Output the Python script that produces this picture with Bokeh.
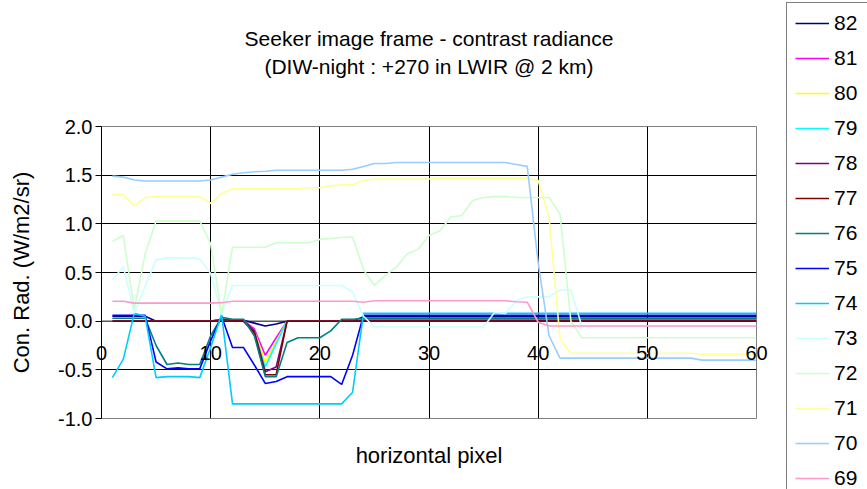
from bokeh.plotting import figure
from bokeh.layouts import row
from bokeh.models import Range1d, FixedTicker, NumeralTickFormatter, Legend, LegendItem, Title, Span
from bokeh.embed import file_html
from bokeh.resources import INLINE

# ---------------- data ----------------
pixels = [1, 2, 3, 4, 5, 6, 7, 8, 9, 10,
          11, 12, 13, 14, 15, 16, 17, 18, 19, 20,
          21, 22, 23, 24, 25, 26, 27, 28, 29, 30,
          31, 32, 33, 34, 35, 36, 37, 38, 39, 40,
          41, 42, 43, 44, 45, 46, 47, 48, 49, 50,
          51, 52, 53, 54, 55, 56, 57, 58, 59, 60]

series_names = ["82", "81", "80", "79", "78", "77", "76", "75", "74", "73", "72", "71", "70", "69"]

s82 = [0.05, 0.05, 0.05, 0.05, 0.0, 0.0, 0.0, 0.0, 0.0, 0.0,
       0.02, 0.01, 0.01, -0.02, -0.05, -0.03, 0.0, 0.0, 0.0, 0.0,
       0.0, 0.0, 0.0, 0.045, 0.045, 0.045, 0.045, 0.045, 0.045, 0.045,
       0.045, 0.045, 0.045, 0.045, 0.045, 0.045, 0.045, 0.045, 0.045, 0.045,
       0.045, 0.045, 0.045, 0.045, 0.045, 0.045, 0.045, 0.045, 0.045, 0.045,
       0.045, 0.045, 0.045, 0.045, 0.045, 0.045, 0.045, 0.045, 0.045, 0.045]
s81 = [0.0, 0.0, 0.0, 0.0, 0.0, 0.0, 0.0, 0.0, 0.0, 0.0,
       0.02, 0.01, 0.01, -0.08, -0.35, -0.17, 0.0, 0.0, 0.0, 0.0,
       0.0, 0.0, 0.0, 0.01, 0.01, 0.01, 0.01, 0.01, 0.01, 0.01,
       0.01, 0.01, 0.01, 0.01, 0.01, 0.01, 0.01, 0.01, 0.01, 0.01,
       0.01, 0.01, 0.01, 0.01, 0.01, 0.01, 0.01, 0.01, 0.01, 0.01,
       0.01, 0.01, 0.01, 0.01, 0.01, 0.01, 0.01, 0.01, 0.01, 0.01]
s80 = [0.0, 0.0, 0.0, 0.0, 0.0, 0.0, 0.0, 0.0, 0.0, 0.0,
       0.02, 0.01, 0.01, -0.10, -0.42, -0.21, 0.0, 0.0, 0.0, 0.0,
       0.0, 0.0, 0.0, 0.01, 0.01, 0.01, 0.01, 0.01, 0.01, 0.01,
       0.01, 0.01, 0.01, 0.01, 0.01, 0.01, 0.01, 0.01, 0.01, 0.01,
       0.01, 0.01, 0.01, 0.01, 0.01, 0.01, 0.01, 0.01, 0.01, 0.01,
       0.01, 0.01, 0.01, 0.01, 0.01, 0.01, 0.01, 0.01, 0.01, 0.01]
s79 = [0.0, 0.0, 0.0, 0.0, 0.0, 0.0, 0.0, 0.0, 0.0, 0.0,
       0.02, 0.01, 0.01, -0.12, -0.47, -0.23, 0.0, 0.0, 0.0, 0.0,
       0.0, 0.0, 0.0, 0.02, 0.02, 0.02, 0.02, 0.02, 0.02, 0.02,
       0.02, 0.02, 0.02, 0.02, 0.02, 0.02, 0.02, 0.02, 0.02, 0.02,
       0.02, 0.02, 0.02, 0.02, 0.02, 0.02, 0.02, 0.02, 0.02, 0.02,
       0.02, 0.02, 0.02, 0.02, 0.02, 0.02, 0.02, 0.02, 0.02, 0.02]
s78 = [0.0, 0.0, 0.0, 0.0, 0.0, 0.0, 0.0, 0.0, 0.0, 0.0,
       0.02, 0.01, 0.01, -0.10, -0.52, -0.47, 0.0, 0.0, 0.0, 0.0,
       0.0, 0.0, 0.0, 0.01, 0.01, 0.01, 0.01, 0.01, 0.01, 0.01,
       0.01, 0.01, 0.01, 0.01, 0.01, 0.01, 0.01, 0.01, 0.01, 0.01,
       0.01, 0.01, 0.01, 0.01, 0.01, 0.01, 0.01, 0.01, 0.01, 0.01,
       0.01, 0.01, 0.01, 0.01, 0.01, 0.01, 0.01, 0.01, 0.01, 0.01]
s77 = [0.0, 0.0, 0.0, 0.0, 0.0, 0.0, 0.0, 0.0, 0.0, 0.0,
       0.0, 0.0, 0.0, -0.12, -0.55, -0.55, 0.0, 0.0, 0.0, 0.0,
       0.0, 0.0, 0.0, 0.0, 0.0, 0.0, 0.0, 0.0, 0.0, 0.0,
       0.0, 0.0, 0.0, 0.0, 0.0, 0.0, 0.0, 0.0, 0.0, 0.0,
       0.0, 0.0, 0.0, 0.0, 0.0, 0.0, 0.0, 0.0, 0.0, 0.0,
       0.0, 0.0, 0.0, 0.0, 0.0, 0.0, 0.0, 0.0, 0.0, 0.0]
s76 = [0.03, 0.03, 0.03, 0.03, -0.25, -0.445, -0.43, -0.445, -0.445, -0.15,
       0.04, 0.02, 0.02, -0.15, -0.57, -0.57, -0.22, -0.17, -0.17, -0.17,
       -0.10, 0.02, 0.02, 0.03, 0.03, 0.03, 0.03, 0.03, 0.03, 0.03,
       0.03, 0.03, 0.03, 0.03, 0.03, 0.03, 0.03, 0.03, 0.03, 0.03,
       0.03, 0.03, 0.03, 0.03, 0.03, 0.03, 0.03, 0.03, 0.03, 0.03,
       0.03, 0.03, 0.03, 0.03, 0.03, 0.03, 0.03, 0.03, 0.03, 0.03]
s75 = [0.06, 0.06, 0.06, 0.06, -0.42, -0.49, -0.48, -0.49, -0.49, -0.20,
       0.05, -0.27, -0.27, -0.45, -0.64, -0.62, -0.57, -0.57, -0.57, -0.57,
       -0.57, -0.65, -0.35, 0.06, 0.06, 0.06, 0.06, 0.06, 0.06, 0.06,
       0.06, 0.06, 0.06, 0.06, 0.06, 0.06, 0.06, 0.06, 0.06, 0.06,
       0.06, 0.06, 0.06, 0.06, 0.06, 0.06, 0.06, 0.06, 0.06, 0.06,
       0.06, 0.06, 0.06, 0.06, 0.06, 0.06, 0.06, 0.06, 0.06, 0.06]
s74 = [-0.58, -0.39, 0.08, 0.05, -0.58, -0.57, -0.57, -0.57, -0.58, -0.27,
       0.07, -0.85, -0.85, -0.85, -0.85, -0.85, -0.85, -0.85, -0.85, -0.85,
       -0.85, -0.85, -0.73, 0.08, 0.08, 0.08, 0.08, 0.08, 0.08, 0.08,
       0.08, 0.08, 0.08, 0.08, 0.08, 0.08, 0.08, 0.08, 0.08, 0.08,
       0.08, 0.08, 0.08, 0.08, 0.08, 0.08, 0.08, 0.08, 0.08, 0.08,
       0.08, 0.08, 0.08, 0.08, 0.08, 0.08, 0.08, 0.08, 0.08, 0.08]
s73 = [0.425, 0.56, 0.08, 0.36, 0.63, 0.65, 0.65, 0.65, 0.64, 0.49,
       0.07, 0.367, 0.367, 0.367, 0.367, 0.367, 0.367, 0.367, 0.367, 0.367,
       0.367, 0.367, 0.30, 0.05, -0.06, -0.06, -0.06, -0.06, -0.06, -0.06,
       -0.06, -0.06, -0.06, -0.06, -0.06, 0.09, 0.08, 0.21, 0.25, 0.25,
       0.25, 0.32, 0.32, -0.05, -0.05, -0.05, -0.05, -0.05, -0.05, -0.05,
       -0.05, -0.05, -0.05, -0.05, -0.05, -0.05, -0.05, -0.05, -0.05, -0.05]
s72 = [0.82, 0.88, 0.12, 0.69, 1.03, 1.03, 1.03, 1.03, 1.03, 0.795,
       0.07, 0.76, 0.76, 0.76, 0.76, 0.805, 0.805, 0.805, 0.805, 0.84,
       0.85, 0.86, 0.865, 0.53, 0.367, 0.47, 0.555, 0.69, 0.74, 0.88,
       0.93, 1.07, 1.085, 1.24, 1.27, 1.28, 1.28, 1.27, 1.27, 1.27,
       1.27, 1.10, 0.0, -0.17, -0.17, -0.17, -0.17, -0.17, -0.17, -0.17,
       -0.17, -0.17, -0.17, -0.17, -0.17, -0.17, -0.17, -0.17, -0.17, -0.17]
s71 = [1.30, 1.30, 1.185, 1.27, 1.28, 1.28, 1.28, 1.28, 1.28, 1.21,
       1.31, 1.36, 1.36, 1.36, 1.36, 1.36, 1.36, 1.36, 1.37, 1.37,
       1.39, 1.40, 1.40, 1.445, 1.46, 1.46, 1.46, 1.46, 1.46, 1.46,
       1.47, 1.47, 1.47, 1.47, 1.47, 1.47, 1.47, 1.47, 1.47, 1.445,
       1.07, -0.18, -0.33, -0.33, -0.33, -0.33, -0.33, -0.33, -0.33, -0.33,
       -0.33, -0.33, -0.33, -0.33, -0.34, -0.34, -0.34, -0.34, -0.34, -0.34]
s70 = [1.49, 1.48, 1.45, 1.44, 1.44, 1.44, 1.44, 1.44, 1.44, 1.45,
       1.48, 1.51, 1.525, 1.535, 1.54, 1.55, 1.55, 1.55, 1.55, 1.55,
       1.55, 1.55, 1.56, 1.59, 1.62, 1.62, 1.63, 1.63, 1.63, 1.63,
       1.63, 1.63, 1.63, 1.63, 1.63, 1.63, 1.63, 1.61, 1.59, 0.60,
       -0.15, -0.38, -0.38, -0.38, -0.38, -0.38, -0.38, -0.38, -0.38, -0.38,
       -0.38, -0.38, -0.38, -0.38, -0.40, -0.40, -0.40, -0.40, -0.40, -0.40]
s69 = [0.205, 0.205, 0.185, 0.185, 0.185, 0.185, 0.185, 0.185, 0.185, 0.185,
       0.19, 0.205, 0.205, 0.205, 0.205, 0.205, 0.205, 0.205, 0.205, 0.205,
       0.205, 0.205, 0.205, 0.195, 0.21, 0.21, 0.21, 0.21, 0.21, 0.21,
       0.21, 0.21, 0.21, 0.21, 0.21, 0.21, 0.21, 0.20, 0.195, -0.01,
       -0.05, -0.05, -0.05, -0.05, -0.05, -0.05, -0.05, -0.05, -0.05, -0.05,
       -0.05, -0.05, -0.05, -0.05, -0.05, -0.05, -0.05, -0.05, -0.05, -0.05]

x_ticks = [0, 10, 20, 30, 40, 50, 60]
y_ticks = [-1.0, -0.5, 0.0, 0.5, 1.0, 1.5, 2.0]

title_line1 = "Seeker image frame - contrast radiance"
title_line2 = "(DIW-night : +270 in LWIR @ 2 km)"
x_title = "horizontal pixel"
y_title = "Con. Rad. (W/m2/sr)"

# ---------------- styles ----------------
colors = ["#000080", "#FF00FF", "#FFFF00", "#00FFFF", "#800080", "#800000", "#008080",
          "#0000FF", "#00CCFF", "#CCFFFF", "#CCFFCC", "#FFFF99", "#99CCFF", "#FF99CC"]
series_values = [s82, s81, s80, s79, s78, s77, s76, s75, s74, s73, s72, s71, s70, s69]
FONT = "Liberation Sans"
FS_TICK = "20px"
FS_TITLE = "21px"
FS_AXIS = "22px"
FS_LEG = "21px"

p = figure(width=781, height=489, output_backend="svg", toolbar_location=None,
           title=None,
           x_range=Range1d(0, 60), y_range=Range1d(-1.0, 2.0),
           min_border_left=101, min_border_right=25, min_border_top=126,
           min_border_bottom=71)
p.frame_align = False
p.background_fill_color = "white"
p.border_fill_color = "white"
p.outline_line_color = "#808080"
p.outline_line_width = 1

# x axis: labels lifted up to sit just under the y = 0 line
p.xaxis.ticker = FixedTicker(ticks=x_ticks)
p.xaxis.major_label_text_font = FONT
p.xaxis.major_label_text_font_size = FS_TICK
p.xaxis.major_label_text_color = "black"
p.xaxis.major_tick_out = 0
p.xaxis.major_tick_in = 0
p.xaxis.minor_tick_line_color = None
p.xaxis.major_tick_line_color = None
p.xaxis.axis_line_color = None
p.xaxis.major_label_standoff = -73
p.xaxis.axis_label = x_title
p.xaxis.axis_label_text_font = FONT
p.xaxis.axis_label_text_font_size = FS_AXIS
p.xaxis.axis_label_text_font_style = "normal"
p.xaxis.axis_label_text_color = "black"
p.xaxis.axis_label_standoff = 80

p.yaxis.ticker = FixedTicker(ticks=y_ticks)
p.yaxis.formatter = NumeralTickFormatter(format="0.0")
p.yaxis.major_label_text_font = FONT
p.yaxis.major_label_text_font_size = FS_TICK
p.yaxis.major_label_text_color = "black"
p.yaxis.major_tick_out = 6
p.yaxis.major_tick_in = 0
p.yaxis.minor_tick_line_color = None
p.yaxis.major_label_standoff = 3
p.yaxis.axis_line_color = "black"
p.yaxis.major_tick_line_color = "black"
p.yaxis.axis_label = y_title
p.yaxis.axis_label_text_font = FONT
p.yaxis.axis_label_text_font_size = FS_AXIS
p.yaxis.axis_label_text_font_style = "normal"
p.yaxis.axis_label_text_color = "black"
p.yaxis.axis_label_standoff = 21

p.xgrid.ticker = FixedTicker(ticks=[10, 20, 30, 40, 50])
p.xgrid.grid_line_color = "black"
p.xgrid.grid_line_width = 1
p.ygrid.ticker = FixedTicker(ticks=[-0.5, 0.5, 1.0, 1.5])
p.ygrid.grid_line_color = "black"
p.ygrid.grid_line_width = 1

# category axis line at y = 0
p.add_layout(Span(location=0, dimension="width", line_color="black", line_width=1, level="underlay"))

for ys, col in zip(series_values, colors):
    p.line(pixels, ys, line_color=col, line_width=1.6)

# titles: spacer nearest the frame, then line 2, then line 1
spacer = Title(text=" ", standoff=21, text_font=FONT, text_font_size=FS_TITLE,
               align="center", vertical_align="middle")
t2 = Title(text=title_line2, standoff=3, text_font=FONT, text_font_size=FS_TITLE,
           text_font_style="normal", text_color="black", align="center", vertical_align="middle")
t1 = Title(text=title_line1, standoff=3, text_font=FONT, text_font_size=FS_TITLE,
           text_font_style="normal", text_color="black", align="center", vertical_align="middle")
p.add_layout(spacer, "above")
p.add_layout(t2, "above")
p.add_layout(t1, "above")

# ---------------- legend panel (same series, legend keys only) ----------------
q = figure(width=86, height=489, output_backend="svg", toolbar_location=None, title=None,
           x_axis_type=None, y_axis_type=None,
           x_range=Range1d(1000, 1001), y_range=Range1d(1000, 1001), min_border=0)
q.frame_align = False
q.outline_line_color = None
q.background_fill_color = "white"
q.border_fill_color = "white"
items = []
for name, ys, col in zip(series_names, series_values, colors):
    r = q.line(pixels, ys, line_color=col, line_width=1.6)
    items.append(LegendItem(label=name, renderers=[r]))

legend = Legend(items=items, location=(5, -10))
legend.label_text_font = FONT
legend.label_text_font_size = FS_LEG
legend.label_text_color = "black"
legend.glyph_width = 34
legend.glyph_height = 20
legend.label_height = 20
legend.label_width = 40
legend.label_standoff = 5
legend.spacing = 11
legend.padding = 8
legend.margin = 0
legend.border_line_color = "black"
legend.border_line_width = 1
legend.background_fill_color = "white"
legend.background_fill_alpha = 1.0
q.add_layout(legend)

layout = row(p, q, spacing=0)
open("out.html", "w").write(file_html(layout, INLINE))
